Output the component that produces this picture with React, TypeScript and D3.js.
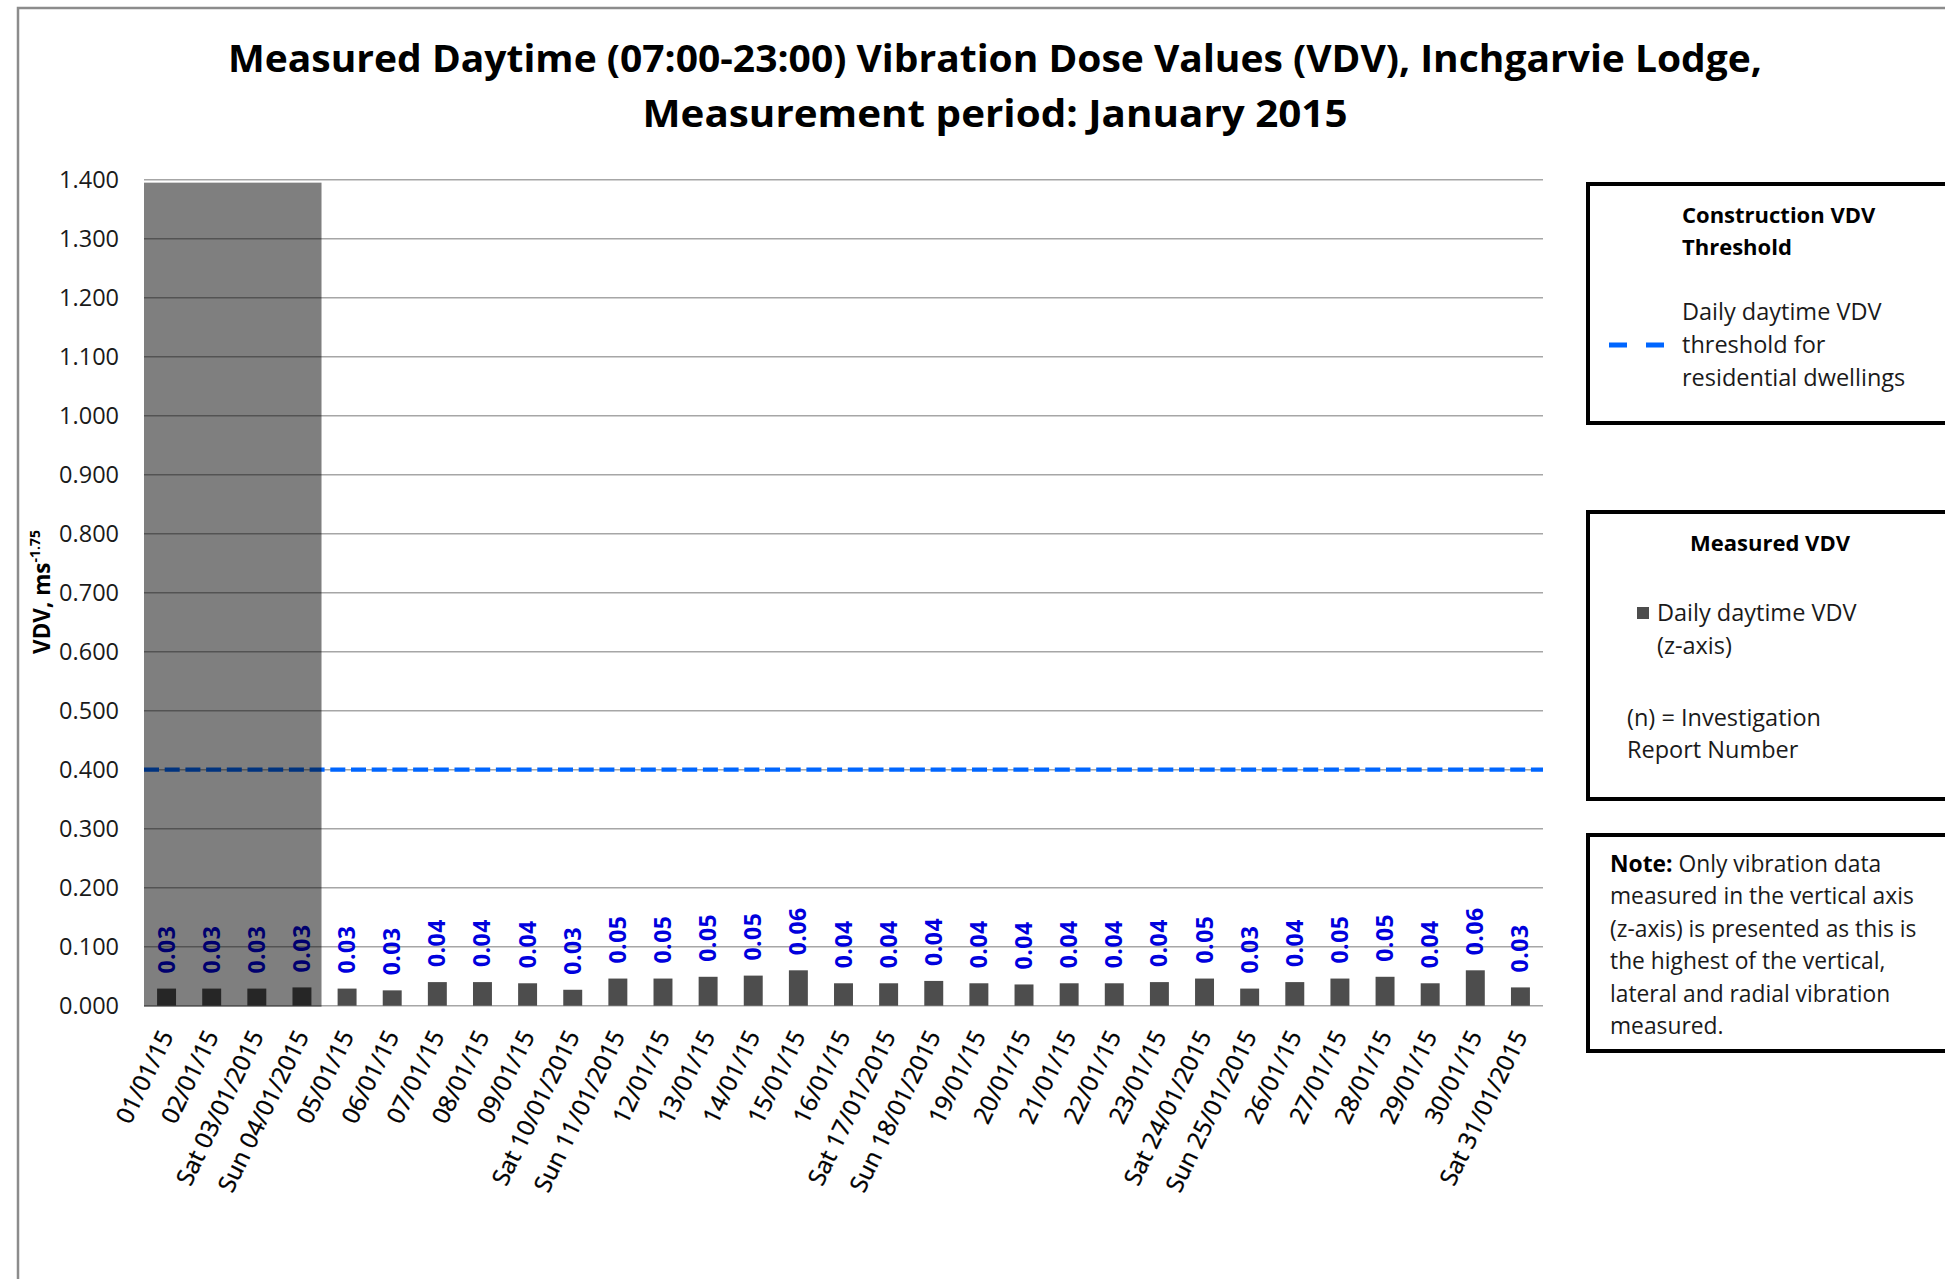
import React from "react";
import * as d3 from "d3";

const dates = [
  "01/01/15", "02/01/15", "Sat 03/01/2015", "Sun 04/01/2015", "05/01/15", "06/01/15",
  "07/01/15", "08/01/15", "09/01/15", "Sat 10/01/2015", "Sun 11/01/2015", "12/01/15",
  "13/01/15", "14/01/15", "15/01/15", "16/01/15", "Sat 17/01/2015", "Sun 18/01/2015",
  "19/01/15", "20/01/15", "21/01/15", "22/01/15", "23/01/15", "Sat 24/01/2015",
  "Sun 25/01/2015", "26/01/15", "27/01/15", "28/01/15", "29/01/15", "30/01/15", "Sat 31/01/2015",
];
const vdv = [
  0.029, 0.029, 0.029, 0.031, 0.029, 0.026, 0.040, 0.040, 0.038, 0.027, 0.046,
  0.046, 0.049, 0.051, 0.060, 0.038, 0.038, 0.042, 0.038, 0.036, 0.038, 0.038,
  0.040, 0.046, 0.029, 0.040, 0.046, 0.049, 0.038, 0.060, 0.031,
];
const shadedDates = ["01/01/15", "02/01/15", "Sat 03/01/2015", "Sun 04/01/2015"];
const shadedValue = 1.395;
const threshold = 0.4;
const yTicks = [0, 0.1, 0.2, 0.3, 0.4, 0.5, 0.6, 0.7, 0.8, 0.9, 1.0, 1.1, 1.2, 1.3, 1.4];

const titleLines = [
  "Measured Daytime (07:00-23:00) Vibration Dose Values (VDV), Inchgarvie Lodge,",
  "Measurement period: January 2015",
];
const legend1Title = ["Construction VDV", "Threshold"];
const legend1Text = ["Daily daytime VDV", "threshold for", "residential dwellings"];
const legend2Title = "Measured VDV";
const legend2Text = ["Daily daytime VDV", "(z-axis)"];
const legend2Note = ["(n) = Investigation", "Report Number"];
const noteLines = [
  "Only vibration data",
  "measured in the vertical axis",
  "(z-axis) is presented as this is",
  "the highest of the vertical,",
  "lateral and radial vibration",
  "measured.",
];

const W = 1945;
const H = 1279;
const FONT = "'Open Sans', 'DejaVu Sans', sans-serif";

export default function App() {
  const left = 144, right = 1543, top = 179.7, bottom = 1005.7;
  const x = d3.scaleBand<string>().domain(dates).range([left, right]).paddingInner(0.58).paddingOuter(0.29);
  const xs = d3.scaleBand<string>().domain(dates).range([left, right]).padding(0);
  const y = d3.scaleLinear().domain([0, 1.4]).range([bottom, top]);
  const fmtTick = d3.format(".3f");
  const fmtLab = d3.format(".2f");
  const bw = x.bandwidth();

  const sx0 = xs(shadedDates[0])!;
  const sx1 = xs(shadedDates[shadedDates.length - 1])! + xs.bandwidth() - 3;

  return (
    <svg width={W} height={H} style={{ position: "absolute", left: 0, top: 0, background: "#fff" }} fontFamily={FONT}>
      <rect x={0} y={0} width={W} height={H} fill="#fff" />
      <rect x={18} y={8} width={W + 50} height={H + 50} fill="none" stroke="#8c8c8c" strokeWidth={2.5} />

      {titleLines.map((t, i) => (
        <text key={i} x={995} y={i === 0 ? 72 : 127} textAnchor="middle" fontWeight="bold" fontSize={37}
          fill="#000" textLength={i === 0 ? 1534 : 705} lengthAdjust="spacingAndGlyphs">{t}</text>
      ))}

      {/* gridlines */}
      {yTicks.map((t) => (
        <line key={t} x1={left} x2={right} y1={y(t)} y2={y(t)} stroke="#a6a6a6" strokeWidth={1.6} />
      ))}
      {yTicks.map((t) => (
        <text key={"l" + t} x={119} y={y(t)} dy="0.35em" textAnchor="end" fontSize={23.5} fill="#1a1a1a">{fmtTick(t)}</text>
      ))}

      {/* y axis title */}
      <text transform={`translate(50,592) rotate(-90)`} textAnchor="middle" fontWeight="bold" fontSize={22.5} fill="#000">
        VDV, ms<tspan dy={-10} fontSize={14}>-1.75</tspan>
      </text>

      {/* bars */}
      {dates.map((d, i) => (
        <rect key={d} x={x(d)} y={y(vdv[i])} width={bw} height={y(0) - y(vdv[i])} fill="#4d4d4d" />
      ))}
      {/* labels */}
      {dates.map((d, i) => (
        <text key={"v" + d} transform={`translate(${x(d)! + bw / 2 + 8},${y(vdv[i]) - 15}) rotate(-90)`}
          fontSize={23} fontWeight="bold" fill="#0000dd" letterSpacing={0.5}>{fmtLab(vdv[i])}</text>
      ))}

      {/* threshold */}
      <line x1={left} x2={right} y1={y(threshold)} y2={y(threshold)} stroke="#0066ff" strokeWidth={4.3} strokeDasharray="15,5.7" />

      {/* shaded period */}
      <rect x={sx0} y={y(shadedValue)} width={sx1 - sx0} height={y(0) - y(shadedValue) + 1} fill="#000" fillOpacity={0.5} />

      {/* x labels */}
      {dates.map((d) => (
        <text key={"x" + d} transform={`translate(${x(d)! + bw / 2},1032) rotate(-64)`} textAnchor="end"
          dy="0.35em" fontSize={24} fill="#000" stroke="#000" strokeWidth={0.35}>{d}</text>
      ))}

      {/* legend 1 */}
      <rect x={1588} y={184} width={420} height={239} fill="#fff" stroke="#000" strokeWidth={4} />
      {legend1Title.map((t, i) => (
        <text key={t} x={1682} y={223 + i * 32} fontSize={22} fontWeight="bold" fill="#000">{t}</text>
      ))}
      {legend1Text.map((t, i) => (
        <text key={t} x={1682} y={320 + i * 33} fontSize={23.5} fill="#1a1a1a">{t}</text>
      ))}
      <line x1={1609} x2={1665} y1={345} y2={345} stroke="#0066ff" strokeWidth={5} strokeDasharray="18,19" />

      {/* legend 2 */}
      <rect x={1588} y={512} width={420} height={287} fill="#fff" stroke="#000" strokeWidth={4} />
      <text x={1770} y={551} textAnchor="middle" fontSize={22} fontWeight="bold" fill="#000">{legend2Title}</text>
      <rect x={1637} y={607} width={12} height={12} fill="#4d4d4d" />
      {legend2Text.map((t, i) => (
        <text key={t} x={1657} y={621 + i * 33} fontSize={23.5} fill="#1a1a1a">{t}</text>
      ))}
      {legend2Note.map((t, i) => (
        <text key={t} x={1627} y={726 + i * 32} fontSize={23.5} fill="#1a1a1a">{t}</text>
      ))}

      {/* note */}
      <rect x={1588} y={835} width={420} height={216} fill="#fff" stroke="#000" strokeWidth={4} />
      {noteLines.map((t, i) => (
        <text key={i} x={1610} y={872 + i * 32.4} fontSize={22.8} fill="#1a1a1a">
          {i === 0 ? <tspan fontWeight="bold" fill="#000">Note: </tspan> : null}
          {t}
        </text>
      ))}
    </svg>
  );
}
